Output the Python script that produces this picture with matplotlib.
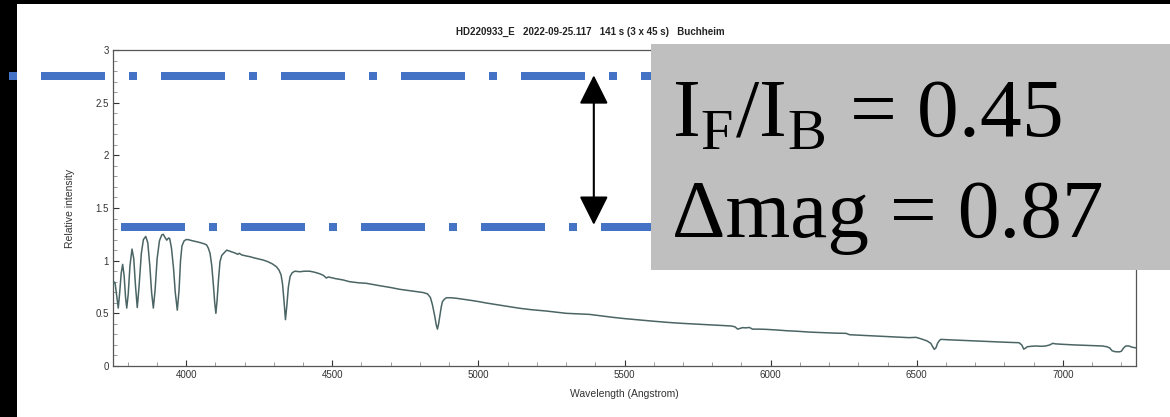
import numpy as np
import matplotlib
matplotlib.use("Agg")
import matplotlib.pyplot as plt
from matplotlib.patches import Rectangle
from matplotlib.ticker import MultipleLocator, FuncFormatter
from matplotlib.transforms import blended_transform_factory

# spectrum (Angstrom, relative intensity)
wavelength = [3750, 3753, 3757, 3762, 3768, 3773, 3778, 3783, 3788, 3793, 3797, 3802, 3808,
              3815, 3821, 3827, 3833, 3839, 3847, 3854, 3862, 3869, 3876, 3882, 3888, 3894,
              3901, 3909, 3917, 3922, 3928, 3934, 3940, 3944, 3950, 3957, 3963, 3970, 3976,
              3981, 3986, 3993, 4000, 4007, 4020, 4036, 4050, 4062, 4070, 4076, 4082, 4088,
              4094, 4098, 4102, 4106, 4111, 4116, 4122, 4132, 4139, 4150, 4160, 4170, 4176,
              4182, 4190, 4205, 4218, 4235, 4250, 4264, 4280, 4295, 4309, 4318, 4325, 4330,
              4335, 4340, 4345, 4350, 4356, 4363, 4372, 4389, 4405, 4423, 4440, 4458, 4470,
              4480, 4486, 4492, 4510, 4537, 4560, 4590, 4617, 4640, 4663, 4700, 4731, 4760,
              4788, 4810, 4826, 4836, 4843, 4851, 4856, 4860, 4864, 4868, 4873, 4877, 4884,
              4891, 4905, 4925, 4950, 4982, 5004, 5027, 5050, 5073, 5100, 5141, 5180, 5232,
              5270, 5301, 5340, 5380, 5420, 5460, 5500, 5551, 5600, 5643, 5690, 5733, 5770,
              5802, 5840, 5865, 5878, 5887, 5893, 5904, 5916, 5927, 5938, 5960, 5984, 6020,
              6053, 6090, 6132, 6180, 6220, 6258, 6270, 6300, 6337, 6380, 6420, 6474, 6497,
              6510, 6520, 6535, 6548, 6555, 6560, 6566, 6571, 6577, 6582, 6600, 6640, 6679,
              6720, 6760, 6800, 6850, 6859, 6866, 6872, 6878, 6895, 6907, 6925, 6941, 6955,
              6965, 6975, 6998, 7040, 7090, 7135, 7150, 7160, 7168, 7178, 7192, 7200, 7207,
              7215, 7226, 7237, 7250]
intensity = [0.76, 0.80, 0.79, 0.68, 0.55, 0.70, 0.88, 0.965, 0.86, 0.65, 0.55, 0.68, 0.95,
             1.11, 1.02, 0.76, 0.555, 0.75, 1.07, 1.20, 1.23, 1.17, 0.95, 0.70, 0.55, 0.72,
             1.02, 1.19, 1.245, 1.25, 1.22, 1.195, 1.215, 1.21, 1.12, 0.93, 0.70, 0.53, 0.72,
             1.00, 1.14, 1.187, 1.20, 1.20, 1.19, 1.18, 1.17, 1.16, 1.15, 1.12, 1.07, 0.95,
             0.75, 0.60, 0.50, 0.62, 0.82, 0.99, 1.05, 1.08, 1.10, 1.09, 1.08, 1.07, 1.06,
             1.07, 1.055, 1.045, 1.038, 1.025, 1.015, 1.006, 0.99, 0.97, 0.943, 0.91, 0.865, 0.78,
             0.62, 0.44, 0.58, 0.75, 0.85, 0.885, 0.90, 0.895, 0.90, 0.90, 0.89, 0.875, 0.86,
             0.835, 0.845, 0.842, 0.83, 0.817, 0.80, 0.79, 0.785, 0.773, 0.762, 0.745, 0.728, 0.717,
             0.706, 0.698, 0.685, 0.65, 0.58, 0.47, 0.39, 0.35, 0.40, 0.47, 0.56, 0.61, 0.635,
             0.648, 0.648, 0.643, 0.633, 0.62, 0.61, 0.598, 0.588, 0.579, 0.566, 0.548, 0.535, 0.522,
             0.51, 0.50, 0.495, 0.49, 0.476, 0.462, 0.45, 0.437, 0.425, 0.415, 0.406, 0.399, 0.394,
             0.389, 0.384, 0.38, 0.372, 0.35, 0.355, 0.364, 0.362, 0.366, 0.35, 0.35, 0.348, 0.342,
             0.335, 0.33, 0.322, 0.316, 0.312, 0.31, 0.297, 0.293, 0.288, 0.283, 0.277, 0.269, 0.272,
             0.262, 0.253, 0.238, 0.215, 0.18, 0.158, 0.175, 0.215, 0.24, 0.253, 0.25, 0.245, 0.24,
             0.234, 0.23, 0.226, 0.221, 0.20, 0.16, 0.17, 0.183, 0.188, 0.19, 0.187, 0.19, 0.20,
             0.215, 0.21, 0.206, 0.20, 0.195, 0.19, 0.183, 0.172, 0.145, 0.136, 0.134, 0.14, 0.17,
             0.19, 0.19, 0.178, 0.172]

# the two dash-dot levels and the numbers in the box
level_top = 2.75
level_bottom = 1.32
arrow_wl = 5395
ratio = 0.45
dmag = 0.87
title = "HD220933_E   2022-09-25.117   141 s (3 x 45 s)   Buchheim"

W, H = 1170, 417
fig = plt.figure(figsize=(W / 100, H / 100), dpi=100)
ax = fig.add_axes([113 / W, 1 - 366 / H, (1136 - 113) / W, (366 - 50) / H])

sans = "Liberation Sans"
ax.plot(wavelength, intensity, color="#4b6565", lw=1.1, zorder=3)
ax.set_xlim(3750, 7250)
ax.set_ylim(0, 3)
ax.xaxis.set_major_locator(MultipleLocator(500))
ax.xaxis.set_minor_locator(MultipleLocator(100))
ax.yaxis.set_major_locator(MultipleLocator(0.5))
ax.yaxis.set_minor_locator(MultipleLocator(0.1))
ax.yaxis.set_major_formatter(FuncFormatter(lambda v, p: ("%g" % v)))
ax.tick_params(which="major", direction="in", length=4, width=0.8, color="#333333",
               labelsize=7, labelcolor="#333333", pad=3)
ax.tick_params(which="minor", direction="in", length=3, width=0.7, color="#999999")
for lab in ax.get_xticklabels() + ax.get_yticklabels():
    lab.set_fontfamily(sans)
for s in ax.spines.values():
    s.set_color("#555555")
    s.set_linewidth(0.9)

ax.set_xlabel("Wavelength (Angstrom)", fontsize=7.5, family=sans, color="#333333")
ax.set_ylabel("Relative intensity", fontsize=7.5, family=sans, color="#333333")
ax.xaxis.set_label_coords(0.5, -(394 - 366) / 316, transform=ax.transAxes)
ax.yaxis.set_label_coords(-(113 - 70) / 1023, 0.5, transform=ax.transAxes)
ax.xaxis.label.set_va("center")
ax.yaxis.label.set_va("center")

fig.text(590 / W, 1 - 32 / H, title, ha="center", va="center", fontsize=7,
         fontweight="bold", family=sans, color="#222222")

# dash-dot lines, x in figure units, y in data units
tr = blended_transform_factory(fig.transFigure, ax.transData)
lw = 8 * 0.72
ax.plot([9 / W, 700 / W], [level_top, level_top], transform=tr, clip_on=False,
        color="#4472C4", lw=lw, linestyle=(11, (8, 3, 1, 3)), solid_capstyle="butt", zorder=4)
ax.plot([121 / W, 700 / W], [level_bottom, level_bottom], transform=tr, clip_on=False,
        color="#4472C4", lw=lw, linestyle=(0, (8, 3, 1, 3)), solid_capstyle="butt", zorder=4)

ax.annotate("", xy=(arrow_wl, level_top + 0.01), xytext=(arrow_wl, level_bottom + 0.02),
            arrowprops=dict(arrowstyle="<|-|>,head_length=1.8,head_width=0.9",
                            color="black", lw=1.5, shrinkA=0, shrinkB=0, mutation_scale=10),
            annotation_clip=False, zorder=5)

# black borders of the screenshot
fig.patches.append(Rectangle((0, 0), 17 / W, 1, transform=fig.transFigure,
                             facecolor="black", edgecolor="none", zorder=-1))
fig.patches.append(Rectangle((0, 1 - 4 / H), 1, 4 / H, transform=fig.transFigure,
                             facecolor="black", edgecolor="none", zorder=-1))

# grey box with the result
box = Rectangle((651 / W, 1 - 270 / H), (W - 651) / W, (270 - 44) / H,
                transform=fig.transFigure, facecolor="#bfbfbf", edgecolor="none", zorder=5)
fig.add_artist(box)
serif = "Liberation Serif"
fig.text(672 / W, 1 - 136 / H,
         r"I$_\mathregular{F}$/I$_\mathregular{B}$ = " + "%.2f" % ratio,
         ha="left", va="baseline", fontsize=60, family=serif, color="black", zorder=6)
fig.text(672 / W, 1 - 237 / H, "\u0394mag = %.2f" % dmag,
         ha="left", va="baseline", fontsize=60, family=serif, color="black", zorder=6)

fig.savefig("out.png", dpi=100)
